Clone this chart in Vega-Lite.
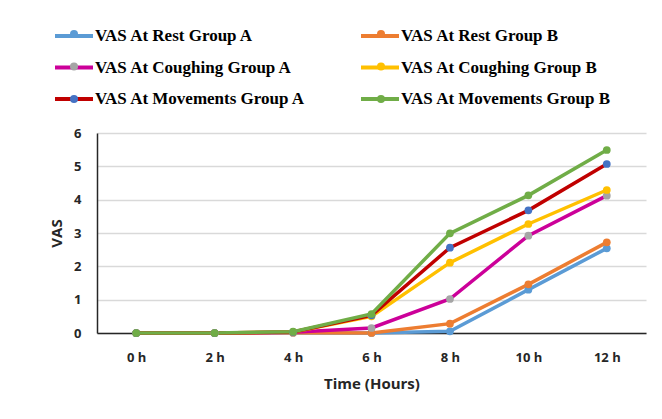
{
  "$schema": "https://vega.github.io/schema/vega-lite/v6.json",
  "width": 549,
  "height": 200,
  "autosize": {"type": "none"},
  "padding": {"left": 97, "top": 133, "right": 16, "bottom": 86},
  "background": "white",
  "config": {
    "view": {"stroke": null},
    "font": "Open Sans",
    "axis": {"labelFont": "Open Sans", "titleFont": "Open Sans", "labelFontWeight": "bold", "titleFontWeight": "bold", "labelColor": "#262626", "titleColor": "#262626", "labelFontSize": 13, "titleFontSize": 15, "ticks": false}
  },
  "data": {"values": [
    {"time": "0 h", "series": "VAS At Rest Group A", "marker": "Rest A", "vas": 0},
    {"time": "2 h", "series": "VAS At Rest Group A", "marker": "Rest A", "vas": 0},
    {"time": "4 h", "series": "VAS At Rest Group A", "marker": "Rest A", "vas": 0.01},
    {"time": "6 h", "series": "VAS At Rest Group A", "marker": "Rest A", "vas": 0.0},
    {"time": "8 h", "series": "VAS At Rest Group A", "marker": "Rest A", "vas": 0.05},
    {"time": "10 h", "series": "VAS At Rest Group A", "marker": "Rest A", "vas": 1.3},
    {"time": "12 h", "series": "VAS At Rest Group A", "marker": "Rest A", "vas": 2.54},
    {"time": "0 h", "series": "VAS At Rest Group B", "marker": "Rest B", "vas": 0},
    {"time": "2 h", "series": "VAS At Rest Group B", "marker": "Rest B", "vas": 0},
    {"time": "4 h", "series": "VAS At Rest Group B", "marker": "Rest B", "vas": 0.01},
    {"time": "6 h", "series": "VAS At Rest Group B", "marker": "Rest B", "vas": 0.0},
    {"time": "8 h", "series": "VAS At Rest Group B", "marker": "Rest B", "vas": 0.28},
    {"time": "10 h", "series": "VAS At Rest Group B", "marker": "Rest B", "vas": 1.46},
    {"time": "12 h", "series": "VAS At Rest Group B", "marker": "Rest B", "vas": 2.72},
    {"time": "0 h", "series": "VAS At Coughing Group A", "marker": "Coughing A", "vas": 0},
    {"time": "2 h", "series": "VAS At Coughing Group A", "marker": "Coughing A", "vas": 0},
    {"time": "4 h", "series": "VAS At Coughing Group A", "marker": "Coughing A", "vas": 0.02},
    {"time": "6 h", "series": "VAS At Coughing Group A", "marker": "Coughing A", "vas": 0.15},
    {"time": "8 h", "series": "VAS At Coughing Group A", "marker": "Coughing A", "vas": 1.02},
    {"time": "10 h", "series": "VAS At Coughing Group A", "marker": "Coughing A", "vas": 2.92},
    {"time": "12 h", "series": "VAS At Coughing Group A", "marker": "Coughing A", "vas": 4.12},
    {"time": "0 h", "series": "VAS At Coughing Group B", "marker": "Coughing B", "vas": 0},
    {"time": "2 h", "series": "VAS At Coughing Group B", "marker": "Coughing B", "vas": 0},
    {"time": "4 h", "series": "VAS At Coughing Group B", "marker": "Coughing B", "vas": 0.03},
    {"time": "6 h", "series": "VAS At Coughing Group B", "marker": "Coughing B", "vas": 0.5},
    {"time": "8 h", "series": "VAS At Coughing Group B", "marker": "Coughing B", "vas": 2.11},
    {"time": "10 h", "series": "VAS At Coughing Group B", "marker": "Coughing B", "vas": 3.27},
    {"time": "12 h", "series": "VAS At Coughing Group B", "marker": "Coughing B", "vas": 4.29},
    {"time": "0 h", "series": "VAS At Movements Group A", "marker": "Movements A", "vas": 0},
    {"time": "2 h", "series": "VAS At Movements Group A", "marker": "Movements A", "vas": 0},
    {"time": "4 h", "series": "VAS At Movements Group A", "marker": "Movements A", "vas": 0.03},
    {"time": "6 h", "series": "VAS At Movements Group A", "marker": "Movements A", "vas": 0.53},
    {"time": "8 h", "series": "VAS At Movements Group A", "marker": "Movements A", "vas": 2.56},
    {"time": "10 h", "series": "VAS At Movements Group A", "marker": "Movements A", "vas": 3.68},
    {"time": "12 h", "series": "VAS At Movements Group A", "marker": "Movements A", "vas": 5.07},
    {"time": "0 h", "series": "VAS At Movements Group B", "marker": "Movements B", "vas": 0},
    {"time": "2 h", "series": "VAS At Movements Group B", "marker": "Movements B", "vas": 0},
    {"time": "4 h", "series": "VAS At Movements Group B", "marker": "Movements B", "vas": 0.04},
    {"time": "6 h", "series": "VAS At Movements Group B", "marker": "Movements B", "vas": 0.57},
    {"time": "8 h", "series": "VAS At Movements Group B", "marker": "Movements B", "vas": 2.99},
    {"time": "10 h", "series": "VAS At Movements Group B", "marker": "Movements B", "vas": 4.13},
    {"time": "12 h", "series": "VAS At Movements Group B", "marker": "Movements B", "vas": 5.49}
  ]},
  "encoding": {
    "x": {"field": "time", "type": "ordinal", "sort": ["0 h", "2 h", "4 h", "6 h", "8 h", "10 h", "12 h"],
      "scale": {"type": "point", "padding": 0.5},
      "axis": {"title": "Time (Hours)", "labelAngle": 0, "domainColor": "#262626", "domainWidth": 1.5, "labelPadding": 18, "titlePadding": 12, "grid": false}},
    "y": {"field": "vas", "type": "quantitative", "scale": {"domain": [0, 6], "nice": false},
      "axis": {"title": "VAS", "values": [0, 1, 2, 3, 4, 5, 6], "domainColor": "#262626", "domainWidth": 1.5, "gridColor": "#d9d9d9", "gridWidth": 1.5, "labelPadding": 16, "titlePadding": 9}}
  },
  "layer": [
    {
      "mark": {"type": "line", "strokeWidth": 3.5},
      "encoding": {
        "stroke": {"field": "series", "type": "nominal",
          "scale": {"domain": ["VAS At Rest Group A", "VAS At Rest Group B", "VAS At Coughing Group A", "VAS At Coughing Group B", "VAS At Movements Group A", "VAS At Movements Group B"],
            "range": ["#5B9BD5", "#ED7D31", "#CC0099", "#FFC000", "#C00000", "#70AD47"]},
          "legend": {"title": null, "orient": "none", "legendX": -44, "legendY": -118, "columns": 2, "direction": "horizontal",
            "symbolType": "M-1,0L1,0", "symbolSize": 1444, "symbolStrokeWidth": 4, "labelOffset": 0,
            "labelFont": "Liberation Serif, DejaVu Serif, serif", "labelFontWeight": "bold", "labelFontSize": 17, "labelColor": "#000000", "labelLimit": 400,
            "columnPadding": 47, "rowPadding": 2.5, "padding": 0}}
      }
    },
    {
      "mark": {"type": "point", "filled": true, "size": 60, "opacity": 1},
      "encoding": {
        "fill": {"field": "marker", "type": "nominal",
          "scale": {"domain": ["Rest A", "Rest B", "Coughing A", "Coughing B", "Movements A", "Movements B"],
            "range": ["#5B9BD5", "#ED7D31", "#A5A5A5", "#FFC000", "#4472C4", "#70AD47"]},
          "legend": {"title": null, "orient": "none", "legendX": -27, "legendY": -103, "columns": 2, "direction": "horizontal",
            "symbolType": "circle", "symbolSize": 64, "symbolStrokeWidth": 0, "symbolOpacity": 1, "labelOffset": 0,
            "labelExpr": "''", "labelFontSize": 1, "labelLimit": 0,
            "columnPadding": 299, "rowPadding": 24.5, "padding": 0}}
      }
    }
  ]
}
